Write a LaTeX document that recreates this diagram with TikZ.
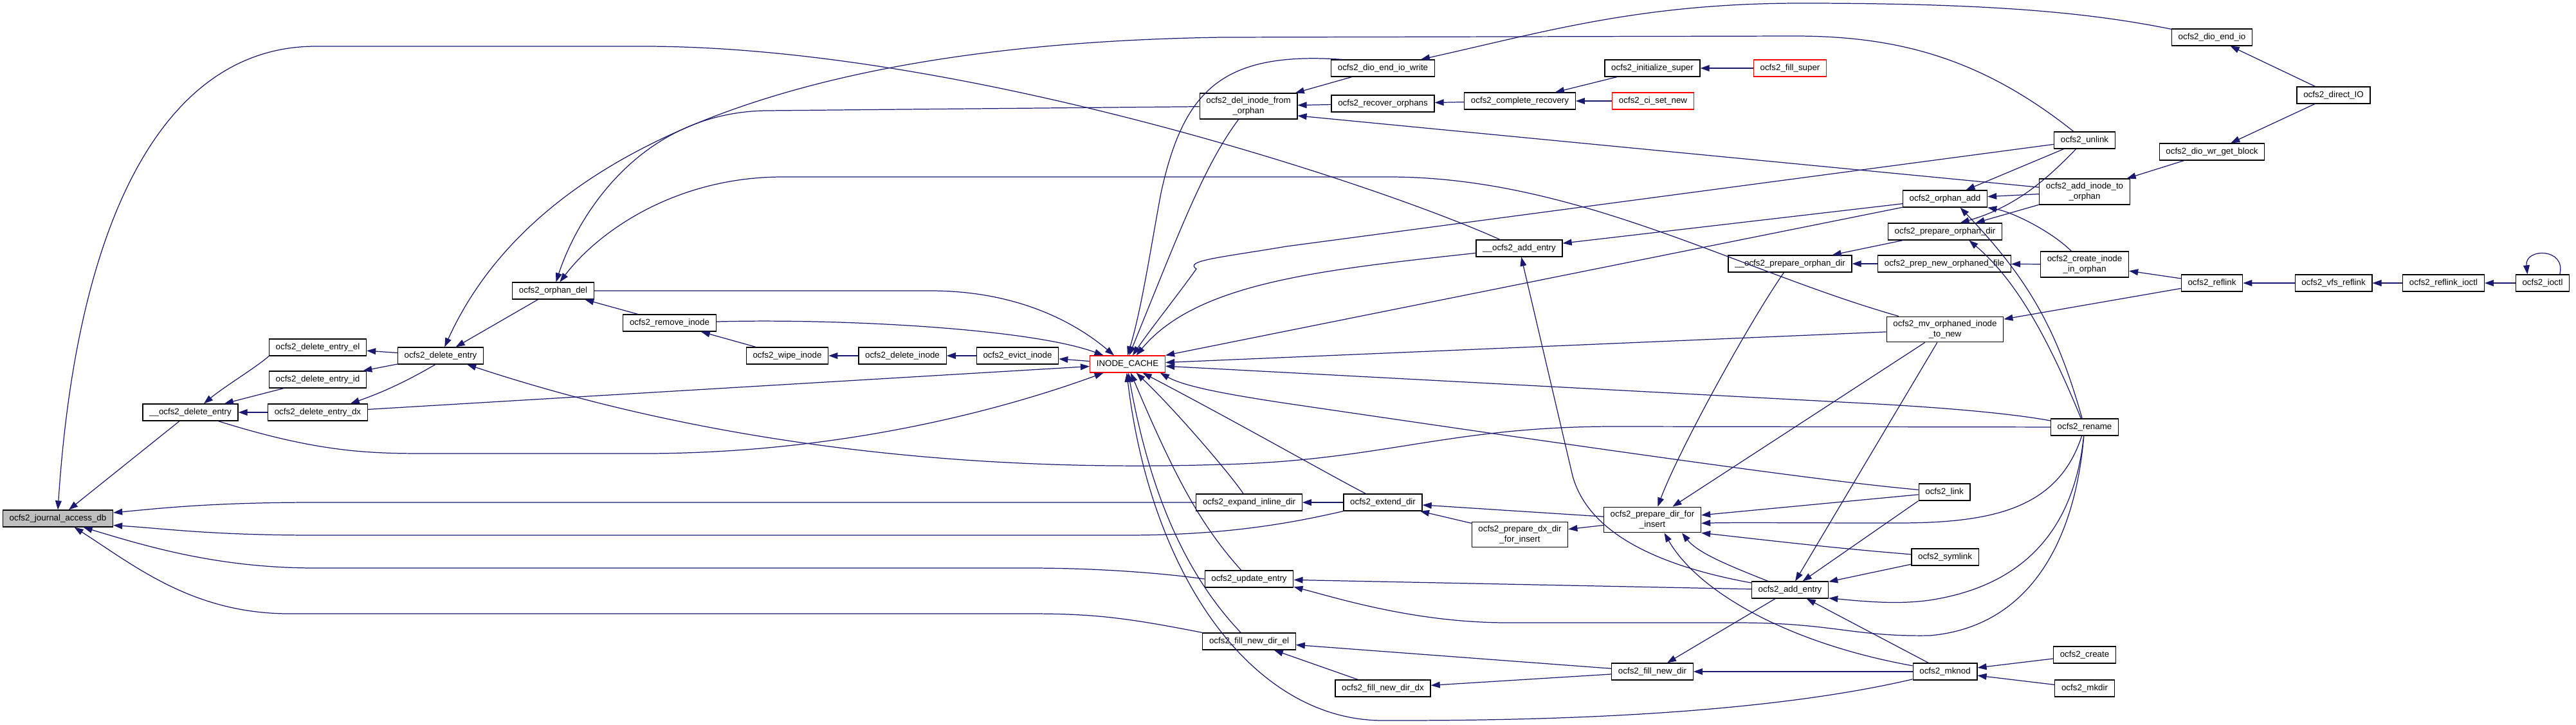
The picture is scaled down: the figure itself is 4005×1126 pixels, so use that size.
\documentclass[tikz,border=0pt]{standalone}
\usepackage{fontspec}
\setmainfont{Liberation Sans}
\usetikzlibrary{arrows.meta}
\definecolor{edgeblue}{HTML}{191970}
\definecolor{cutred}{HTML}{FF0000}
\definecolor{rootgrey}{HTML}{BFBFBF}
\tikzset{
  fn/.style={draw=black, line width=0.7pt, fill=white, font=\fontsize{7.6}{8.6}\selectfont,
    inner xsep=5.8pt, inner ysep=3.5pt, minimum height=14.8pt, align=center},
  rootfn/.style={fn, fill=rootgrey},
  cutfn/.style={fn, draw=cutred},
  call/.style={draw=edgeblue, line width=0.7pt, -{Triangle[length=8pt,width=5.6pt]}}
}
\begin{document}
\begin{tikzpicture}[x=0.02cm,y=-0.02cm]
\useasboundingbox (0,0) rectangle (4005,1126);

\node[rootfn] (journal) at (90,806) {ocfs2\_journal\_access\_db};
\node[fn] (dentry2) at (296,641) {\_\_ocfs2\_delete\_entry};
\node[fn] (delel) at (494,540) {ocfs2\_delete\_entry\_el};
\node[fn] (delid) at (494,590) {ocfs2\_delete\_entry\_id};
\node[fn] (deldx) at (494,641) {ocfs2\_delete\_entry\_dx};
\node[fn] (delentry) at (685,553) {ocfs2\_delete\_entry};
\node[fn] (orphandel) at (860,452) {ocfs2\_orphan\_del};
\node[fn] (removeinode) at (1041,502) {ocfs2\_remove\_inode};
\node[fn] (wipeinode) at (1224,553) {ocfs2\_wipe\_inode};
\node[fn] (deleteinode) at (1403,553) {ocfs2\_delete\_inode};
\node[fn] (evictinode) at (1582,553) {ocfs2\_evict\_inode};
\node[cutfn] (icache) at (1753,566) {INODE\_CACHE};

\node[fn] (delfromorphan) at (1941,165) {ocfs2\_del\_inode\_from\\\_orphan};
\node[fn] (expandinline) at (1942,781) {ocfs2\_expand\_inline\_dir};
\node[fn] (updateentry) at (1942,900) {ocfs2\_update\_entry};
\node[fn] (fillel) at (1942,997) {ocfs2\_fill\_new\_dir\_el};
\node[fn] (diowrite) at (2150,106) {ocfs2\_dio\_end\_io\_write};
\node[fn] (recover) at (2150,161) {ocfs2\_recover\_orphans};
\node[fn] (extenddir) at (2150,781) {ocfs2\_extend\_dir};
\node[fn] (filldx) at (2150,1070) {ocfs2\_fill\_new\_dir\_dx};
\node[fn] (completerec) at (2363,157) {ocfs2\_complete\_recovery};
\node[fn] (addentry2) at (2362,386) {\_\_ocfs2\_add\_entry};
\node[fn] (prepdx) at (2363,831) {ocfs2\_prepare\_dx\_dir\\\_for\_insert};
\node[fn] (initsuper) at (2569,106) {ocfs2\_initialize\_super};
\node[cutfn] (cisetnew) at (2570,157) {ocfs2\_ci\_set\_new};
\node[fn] (prepdir) at (2569,808) {ocfs2\_prepare\_dir\_for\\\_insert};
\node[fn] (filldir) at (2569,1044) {ocfs2\_fill\_new\_dir};
\node[cutfn] (fillsuper) at (2783,106) {ocfs2\_fill\_super};
\node[fn] (preporphan2) at (2783,410) {\_\_ocfs2\_prepare\_orphan\_dir};
\node[fn] (addentry) at (2783,917) {ocfs2\_add\_entry};

\node[fn] (orphanadd) at (3024,309) {ocfs2\_orphan\_add};
\node[fn] (preporphan) at (3024,360) {ocfs2\_prepare\_orphan\_dir};
\node[fn] (prepnewfile) at (3023,410) {ocfs2\_prep\_new\_orphaned\_file};
\node[fn] (mvorphaned) at (3024,512) {ocfs2\_mv\_orphaned\_inode\\\_to\_new};
\node[fn] (link) at (3023,765) {ocfs2\_link};
\node[fn] (symlink) at (3024,866) {ocfs2\_symlink};
\node[fn] (mknod) at (3024,1044) {ocfs2\_mknod};
\node[fn] (unlink) at (3241,218) {ocfs2\_unlink};
\node[fn] (addtoorphan) at (3241,298) {ocfs2\_add\_inode\_to\\\_orphan};
\node[fn] (createinorphan) at (3241,411) {ocfs2\_create\_inode\\\_in\_orphan};
\node[fn] (rename) at (3241,664) {ocfs2\_rename};
\node[fn] (create) at (3241,1018) {ocfs2\_create};
\node[fn] (mkdir) at (3241,1070) {ocfs2\_mkdir};
\node[fn] (dioendio) at (3439,58) {ocfs2\_dio\_end\_io};
\node[fn] (wrgetblock) at (3439,236) {ocfs2\_dio\_wr\_get\_block};
\node[fn] (reflink) at (3439,440) {ocfs2\_reflink};
\node[fn] (directio) at (3628,148) {ocfs2\_direct\_IO};
\node[fn] (vfsreflink) at (3628,440) {ocfs2\_vfs\_reflink};
\node[fn] (reflinkioctl) at (3799,440) {ocfs2\_reflink\_ioctl};
\node[fn] (ioctl) at (3953,440) {ocfs2\_ioctl};

\draw[call] (dentry2) -- (journal);
\draw[call] (addentry2) .. controls (2150,290) and (1500,72) .. (1000,72) -- (491,72) .. controls (260,72) and (120,330) .. (journal.north);
\draw[call] (expandinline) -- (490,781) .. controls (330,781) and (250,790) .. (journal.6);
\draw[call] (extenddir.south west) .. controls (2000,815) and (1900,832) .. (1750,832) -- (490,832) .. controls (330,832) and (260,822) .. (journal.-7);
\draw[call] (updateentry.west) .. controls (1800,890) and (1700,883) .. (1600,883) -- (490,883) .. controls (340,883) and (230,850) .. (journal.-19);
\draw[call] (fillel.north west) .. controls (1750,960) and (1700,954) .. (1600,954) -- (450,954) .. controls (300,954) and (210,880) .. (journal.-28);

\draw[call] (delel.south west) .. controls (400,570) and (350,600) .. (dentry2.33);
\draw[call] (delid) -- (dentry2);
\draw[call] (deldx) -- (dentry2);
\draw[call] (delentry) -- (delel);
\draw[call] (delentry) -- (delid);
\draw[call] (delentry.-121) .. controls (620,600) and (580,615) .. (deldx.15);
\draw[call] (orphandel) -- (delentry);
\draw[call] (unlink) .. controls (3080,90) and (2950,56) .. (2790,56) -- (1900,58) .. controls (1100,70) and (800,300) .. (delentry);
\draw[call] (rename) -- (2510,663) .. controls (2250,663) and (2150,716) .. (1900,722) .. controls (1500,735) and (1100,690) .. (delentry);
\draw[call] (delfromorphan) -- (1191,172) .. controls (1000,175) and (900,330) .. (orphandel);
\draw[call] (mvorphaned) .. controls (2700,420) and (2450,275) .. (2159,275) -- (1217,275) .. controls (1050,275) and (930,360) .. (orphandel);
\draw[call] (removeinode) -- (orphandel);
\draw[call] (wipeinode) -- (removeinode);
\draw[call] (deleteinode) -- (wipeinode);
\draw[call] (evictinode) -- (deleteinode);
\draw[call] (icache) -- (evictinode);

\draw[call] (orphandel) -- (1446,452) .. controls (1580,452) and (1670,500) .. (icache.147);
\draw[call] (removeinode) .. controls (1300,495) and (1600,510) .. (icache.160);
\draw[call] (dentry2) .. controls (500,705) and (580,705) .. (670,705) -- (1000,705) .. controls (1300,705) and (1550,640) .. (icache);
\draw[call] (deldx) -- (icache);
\draw[call] (diowrite.168) .. controls (1900,80) and (1840,140) .. (1805,300) .. controls (1790,380) and (1775,480) .. (icache.90);
\draw[call] (delfromorphan) .. controls (1870,260) and (1830,370) .. (icache.80);
\draw[call] (unlink) -- (2000,383) .. controls (1900,400) and (1840,405) .. (1860,418) .. controls (1830,460) and (1790,510) .. (icache.60);
\draw[call] (addentry2) .. controls (2050,420) and (1860,440) .. (icache.45);
\draw[call] (orphanadd) -- (icache.north east);
\draw[call] (mvorphaned) -- (icache);
\draw[call] (rename) .. controls (3140,645) and (3050,635) .. (2900,627) -- (icache);
\draw[call] (link) .. controls (2880,752) and (2700,730) .. (2000,627) .. controls (1900,612) and (1840,600) .. (icache.-15);
\draw[call] (extenddir) .. controls (2070,740) and (1930,660) .. (icache.-30);
\draw[call] (expandinline) .. controls (1915,740) and (1830,640) .. (icache.-45);
\draw[call] (updateentry) .. controls (1870,820) and (1830,750) .. (icache.-70);
\draw[call] (fillel) .. controls (1850,900) and (1790,780) .. (icache.-85);
\draw[call] (mknod) .. controls (2700,1120) and (2300,1120) .. (2150,1120) .. controls (1950,1120) and (1790,900) .. (icache.-95);

\draw[call] (diowrite) -- (delfromorphan);
\draw[call] (recover) -- (delfromorphan);
\draw[call] (addtoorphan) -- (delfromorphan.-11);
\draw[call] (completerec) -- (recover);
\draw[call] (initsuper) -- (completerec);
\draw[call] (cisetnew) -- (completerec);
\draw[call] (fillsuper) -- (initsuper);
\draw[call] (dioendio) .. controls (3250,20) and (3100,5) .. (2800,5) .. controls (2550,5) and (2400,50) .. (diowrite.13);
\draw[call] (directio) -- (dioendio);
\draw[call] (directio) -- (wrgetblock);
\draw[call] (wrgetblock) -- (addtoorphan);

\draw[call] (addtoorphan) -- (orphanadd);
\draw[call] (unlink) -- (orphanadd);
\draw[call] (createinorphan) .. controls (3190,360) and (3130,330) .. (orphanadd.south east);
\draw[call] (rename) .. controls (3200,520) and (3160,440) .. (orphanadd.-30);
\draw[call] (addtoorphan) -- (preporphan);
\draw[call] (unlink) .. controls (3190,270) and (3140,320) .. (preporphan.30);
\draw[call] (rename) .. controls (3190,540) and (3140,440) .. (preporphan.-20);
\draw[call] (preporphan) -- (preporphan2);
\draw[call] (prepnewfile) -- (preporphan2);
\draw[call] (createinorphan) -- (prepnewfile);
\draw[call] (reflink) -- (createinorphan);
\draw[call] (reflink) -- (mvorphaned);
\draw[call] (vfsreflink) -- (reflink);
\draw[call] (reflinkioctl) -- (vfsreflink);
\draw[call] (ioctl) -- (reflinkioctl);
\draw[call] (ioctl.27) .. controls (3990,385) and (3925,385) .. (ioctl.150);

\draw[call] (orphanadd) -- (addentry2);
\draw[call] (addentry) .. controls (2580,880) and (2470,830) .. (2445,740) -- (addentry2);
\draw[call] (preporphan2) .. controls (2720,500) and (2610,700) .. (prepdir.68);
\draw[call] (mvorphaned) -- (prepdir);
\draw[call] (mvorphaned) -- (addentry);
\draw[call] (link) -- (prepdir);
\draw[call] (rename) .. controls (3200,790) and (3100,813) .. (2950,813) .. controls (2800,813) and (2700,812) .. (prepdir.-4);
\draw[call] (symlink) .. controls (2850,852) and (2750,840) .. (prepdir.-15);
\draw[call] (addentry) .. controls (2690,880) and (2640,860) .. (prepdir.-24);
\draw[call] (mknod) .. controls (2780,1000) and (2640,920) .. (prepdir.-48);
\draw[call] (prepdir) -- (extenddir);
\draw[call] (prepdx) -- (extenddir);
\draw[call] (prepdir) -- (prepdx);
\draw[call] (extenddir) -- (expandinline);

\draw[call] (addentry) -- (updateentry);
\draw[call] (rename) .. controls (3225,850) and (3150,975) .. (3000,988) .. controls (2880,990) and (2850,968) .. (2700,968) -- (2344,968) .. controls (2200,968) and (2080,930) .. (updateentry.-10);
\draw[call] (rename) .. controls (3225,820) and (3150,910) .. (3000,933) .. controls (2950,940) and (2900,935) .. (addentry.-12);
\draw[call] (addentry) -- (filldir);
\draw[call] (filldir) -- (fillel);
\draw[call] (filldir) -- (filldx);
\draw[call] (filldx) -- (fillel);
\draw[call] (mknod) -- (filldir);
\draw[call] (mknod) -- (addentry);
\draw[call] (link.south west) -- (addentry);
\draw[call] (symlink) -- (addentry);
\draw[call] (create) -- (mknod);
\draw[call] (mkdir) -- (mknod);
\end{tikzpicture}
\end{document}
